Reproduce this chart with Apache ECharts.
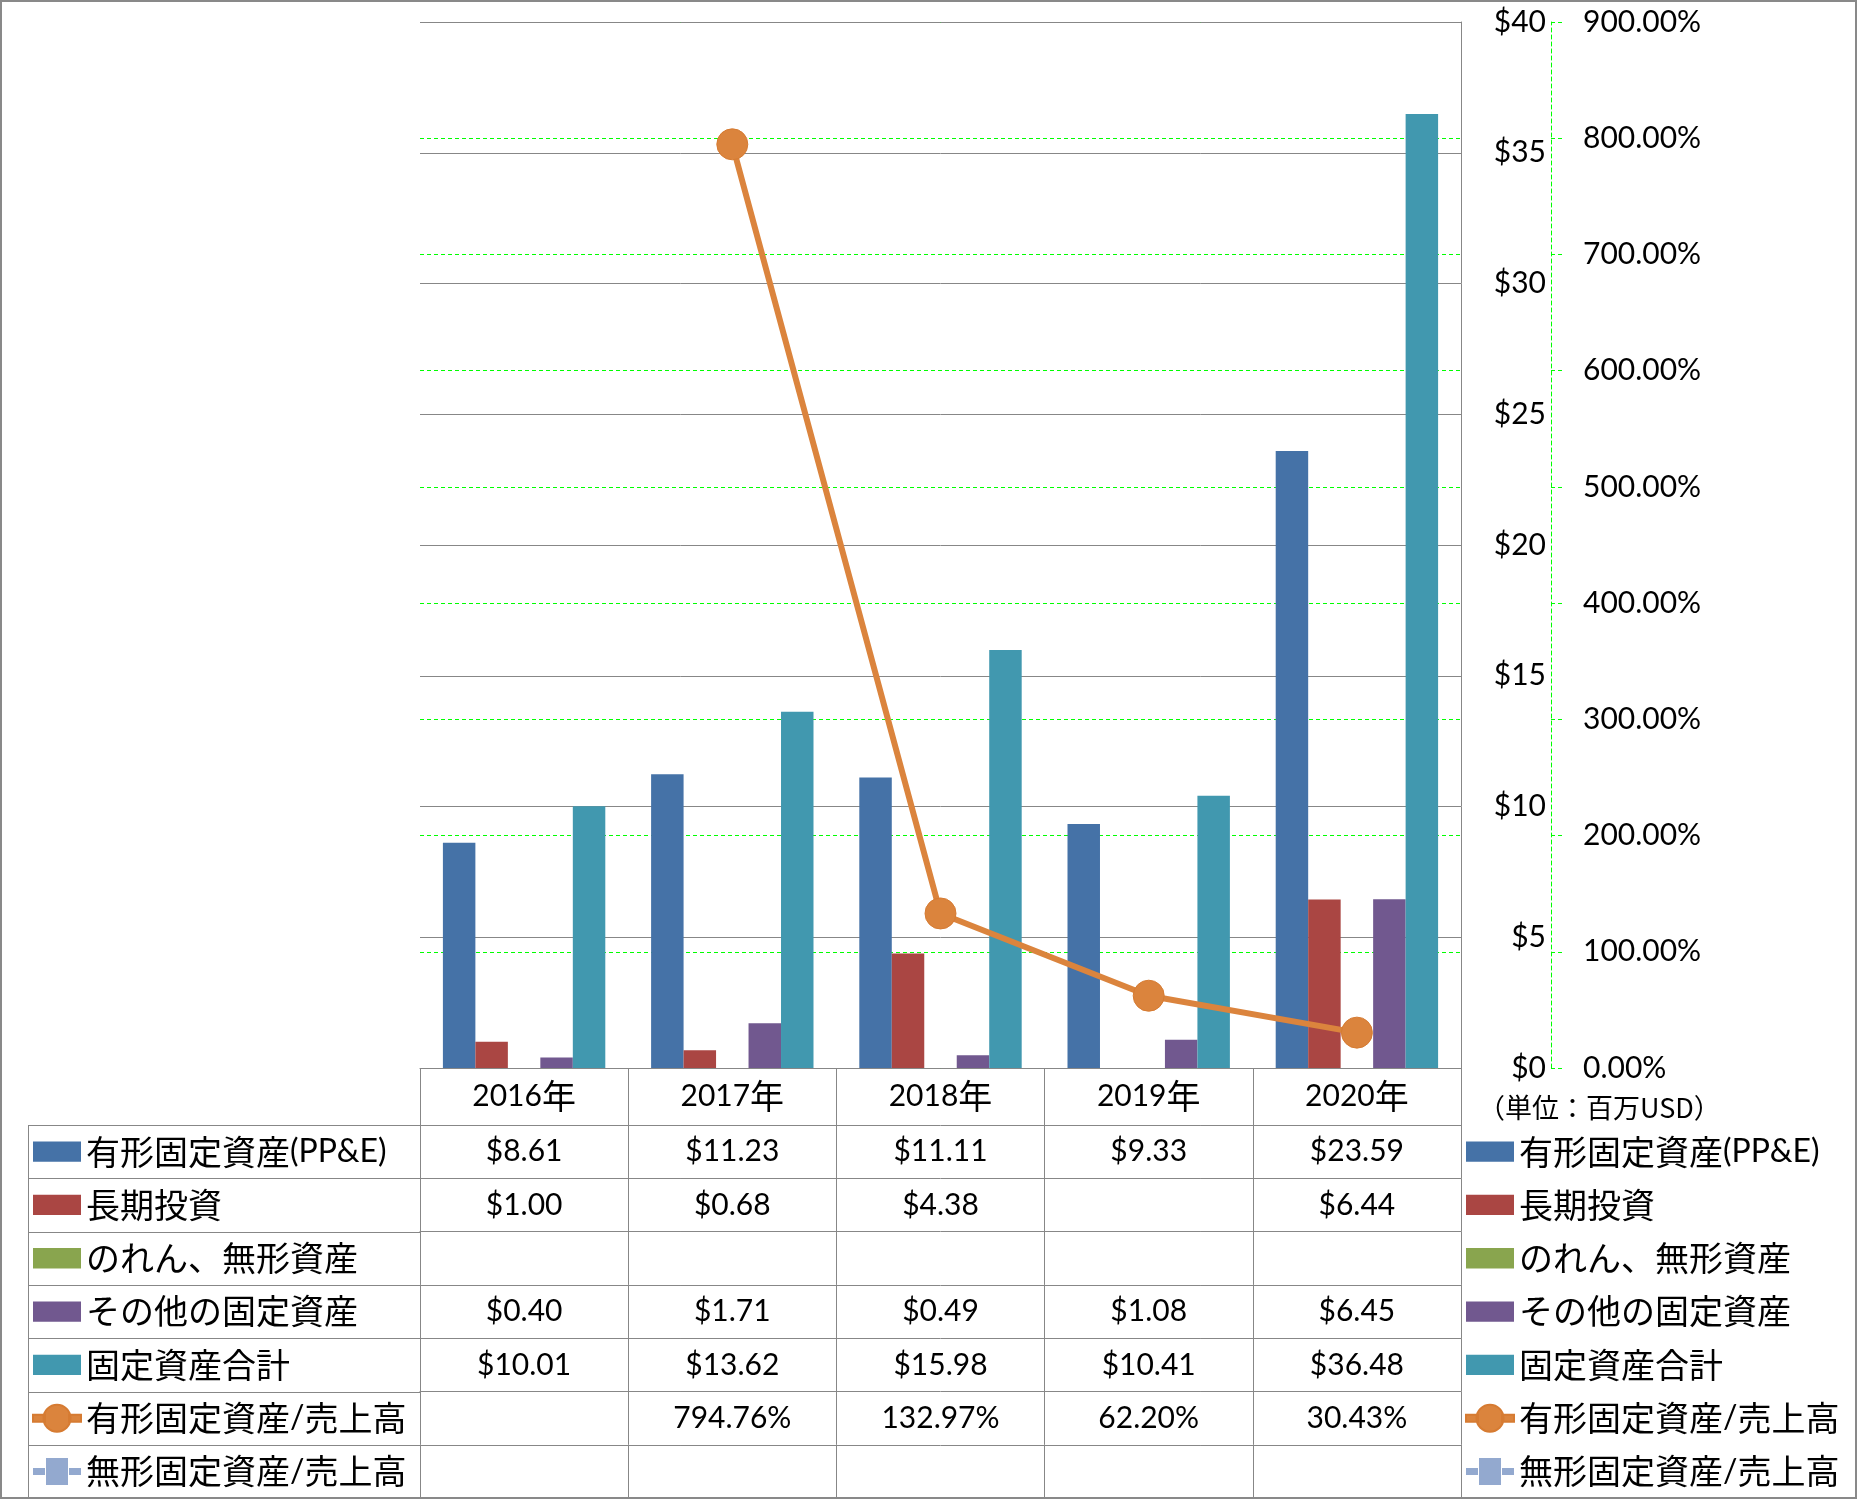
<!DOCTYPE html>
<html><head><meta charset="utf-8">
<script src="https://cdn.jsdelivr.net/npm/echarts@6/dist/echarts.min.js"></script>
<style>html,body{margin:0;padding:0;background:#fff}#c{width:1857px;height:1500px}</style>
</head><body><div id="c"></div>
<script>
// ---------- data ----------
const years = ['2016年', '2017年', '2018年', '2019年', '2020年'];
const seriesNames = ['有形固定資産(PP&E)', '長期投資', 'のれん、無形資産', 'その他の固定資産', '固定資産合計', '有形固定資産/売上高', '無形固定資産/売上高'];
const ppe = [8.61, 11.23, 11.11, 9.33, 23.59];
const longTermInvest = [1.00, 0.68, 4.38, null, 6.44];
const goodwillIntangible = [null, null, null, null, null];
const otherFixed = [0.40, 1.71, 0.49, 1.08, 6.45];
const totalFixed = [10.01, 13.62, 15.98, 10.41, 36.48];
const ppeToSales = [null, 794.76, 132.97, 62.20, 30.43];          // %
const intangibleToSales = [null, null, null, null, null];          // %
const dollarAxis = { min: 0, max: 40, interval: 5 };
const pctAxis = { min: 0, max: 900, interval: 100 };
const unitLabel = '（単位：百万USD）';

// ---------- styles ----------
const colors = ['#4572A7', '#AA4643', '#89A54E', '#71588F', '#4198AF', '#DB843D', '#93A9CF'];
const GRAY = '#878787', GREEN = '#00FF00';
const LAT = 'Lato', CJK = '"Noto Sans CJK JP"';
const PL = 420, PR = 1461, PT = 22, PB = 1068, HEAD = 57, ROW = 53.3;

function richSplit(s) {
  return s.replace(/([\x00-\x7F]+)|([^\x00-\x7F]+)/g, (m, a, b) => a ? '{l|' + a + '}' : '{c|' + b + '}');
}
const rich = {
  l: { fontFamily: LAT, fontSize: 30, lineHeight: 34, color: '#000' },
  c: { fontFamily: CJK, fontSize: 34, lineHeight: 34, color: '#000' }
};
const legendRich = {
  l: { fontFamily: LAT, fontSize: 32, lineHeight: 34, color: '#000' },
  c: { fontFamily: CJK, fontSize: 34, lineHeight: 34, color: '#000' }
};
const money = v => (v == null ? '' : '$' + v.toFixed(2));
const pct = v => (v == null ? '' : v.toFixed(2) + '%');
const tableRows = [
  [ppe, money], [longTermInvest, money], [goodwillIntangible, money], [otherFixed, money],
  [totalFixed, money], [ppeToSales, pct], [intangibleToSales, pct]
];

const xAxes = [{
  type: 'category', data: years, position: 'bottom', gridIndex: 0, z: 1,
  axisLine: { show: true, onZero: false, lineStyle: { color: GRAY, width: 1 } },
  axisTick: { show: true, length: HEAD, interval: 0, lineStyle: { color: GRAY, width: 1 } },
  axisLabel: { interval: 0, margin: HEAD / 2, verticalAlign: 'middle', formatter: v => richSplit(v), rich: rich },
  splitLine: { show: false }
}];
tableRows.forEach(([arr, fmt], k) => {
  xAxes.push({
    type: 'category', data: years, position: 'bottom', gridIndex: 0, offset: HEAD + ROW * k, z: 1,
    axisLine: { show: true, onZero: false, lineStyle: { color: GRAY, width: 1 } },
    axisTick: { show: true, length: ROW, interval: 0, lineStyle: { color: GRAY, width: 1 } },
    axisLabel: { interval: 0, margin: ROW / 2, verticalAlign: 'middle', fontFamily: LAT, fontSize: 30, color: '#000',
      formatter: (v, i) => fmt(arr[i]) },
    splitLine: { show: false }
  });
});

// legend icons (48 x 34 box)
const barIcon = 'path://M0 0H45V19H0Z';
const circleLineIcon = 'path://M0 14H12V21H0Z M36 14H48V21H36Z M10.5 17.5A13.5 13.5 0 1 1 37.5 17.5A13.5 13.5 0 1 1 10.5 17.5Z';
const squareLineIcon = 'path://M0 14H12V21H0Z M36 14H48V21H36Z M13 4H35V31H13Z';
const legendBase = {
  orient: 'vertical', top: PB + HEAD + ROW / 2 - 17, itemWidth: 48, itemHeight: 34, itemGap: ROW - 34,
  padding: 0, selectedMode: false,
  data: seriesNames.map((n, i) => ({ name: n, icon: i < 5 ? barIcon : (i === 5 ? circleLineIcon : squareLineIcon) })),
  formatter: n => richSplit(n),
  textStyle: { color: '#000', rich: legendRich }
};

const barSeries = [ppe, longTermInvest, goodwillIntangible, otherFixed, totalFixed].map((d, i) => ({
  name: seriesNames[i], type: 'bar', data: d, xAxisIndex: 0, yAxisIndex: 0,
  barGap: '0%', barCategoryGap: '22%', itemStyle: { color: colors[i] }
}));

const graphics = [{
  type: 'rect', silent: true, z: 100,
  shape: { x: 1, y: 1, width: 1855, height: 1497 },
  style: { fill: 'none', stroke: '#898989', lineWidth: 2 }
}];
for (let k = 0; k < 7; k++) {
  const y = Math.round(PB + HEAD + ROW * k) + 0.5;
  graphics.push({ type: 'line', silent: true, shape: { x1: 28, y1: y, x2: PL, y2: y }, style: { stroke: GRAY, lineWidth: 1 } });
}
graphics.push({ type: 'line', silent: true,
  shape: { x1: 28.5, y1: PB + HEAD, x2: 28.5, y2: PB + HEAD + 7 * ROW }, style: { stroke: GRAY, lineWidth: 1 } });

const option = {
  animation: false,
  backgroundColor: '#fff',
  title: { text: unitLabel, left: 1478, top: 1094, padding: 0,
    textStyle: { fontFamily: CJK, fontSize: 27, fontWeight: 'normal', color: '#000' } },
  grid: { left: PL, top: PT, width: PR - PL, height: PB - PT, containLabel: false, outerBoundsMode: 'none' },
  legend: [Object.assign({}, legendBase, { left: 32 }), Object.assign({}, legendBase, { left: 1465 })],
  xAxis: xAxes,
  yAxis: [{
    type: 'value', position: 'right', min: dollarAxis.min, max: dollarAxis.max, interval: dollarAxis.interval, z: 1,
    axisLine: { show: true, lineStyle: { color: GRAY, width: 1 } },
    axisTick: { show: false },
    axisLabel: { align: 'right', margin: 85, fontFamily: LAT, fontSize: 30, color: '#000', formatter: v => '$' + v },
    splitLine: { show: true, lineStyle: { color: GRAY, width: 1 } }
  }, {
    type: 'value', position: 'right', offset: 90, min: pctAxis.min, max: pctAxis.max, interval: pctAxis.interval, z: 0,
    axisLine: { show: true, lineStyle: { color: GREEN, width: 1, type: [4, 3] } },
    axisTick: { show: true, length: 11, lineStyle: { color: GREEN, width: 1, type: [4, 3] } },
    axisLabel: { margin: 32, fontFamily: LAT, fontSize: 30, color: '#000', formatter: v => v.toFixed(2) + '%' },
    splitLine: { show: true, lineStyle: { color: GREEN, width: 1, type: [4, 3] } }
  }],
  series: barSeries.concat([{
    name: seriesNames[5], type: 'line', xAxisIndex: 0, yAxisIndex: 1, data: ppeToSales, z: 5,
    symbol: 'circle', symbolSize: 31, lineStyle: { width: 6, color: colors[5] },
    itemStyle: { color: colors[5], borderColor: '#D67B32', borderWidth: 1 }
  }, {
    name: seriesNames[6], type: 'line', xAxisIndex: 0, yAxisIndex: 1, data: intangibleToSales, z: 5,
    symbol: 'roundRect', symbolSize: 28, lineStyle: { width: 6, color: '#9DB2D8' },
    itemStyle: { color: colors[6] }
  }]),
  graphic: graphics
};
const chart = echarts.init(document.getElementById('c'), null, { renderer: 'canvas' });
chart.setOption(option);
</script></body></html>
